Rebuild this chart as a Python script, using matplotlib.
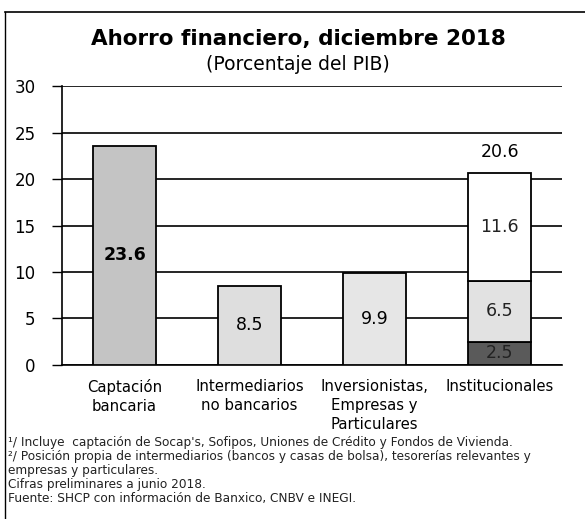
import matplotlib.pyplot as plt
from matplotlib.lines import Line2D

# =========================
# DATA
# =========================
categories = ["Captación\nbancaria", "Intermediarios\nno bancarios",
              "Inversionistas,\nEmpresas y\nParticulares", "Institucionales"]
single_values = [23.6, 8.5, 9.9]
single_colors = ["#c4c4c4", "#dedede", "#e6e6e6"]

inst_segments = [2.5, 6.5, 11.6]
inst_colors = ["#5a5a5a", "#e2e2e2", "#ffffff"]
inst_total = 20.6

footnotes = [
    "¹/ Incluye  captación de Socap's, Sofipos, Uniones de Crédito y Fondos de Vivienda.",
    "²/ Posición propia de intermediarios (bancos y casas de bolsa), tesorerías relevantes y",
    "empresas y particulares.",
    "Cifras preliminares a junio 2018.",
    "Fuente: SHCP con información de Banxico, CNBV e INEGI.",
]

plt.rcParams["font.family"] = ["DejaVu Sans"]

fig = plt.figure(figsize=(5.85, 5.19), dpi=100)
ax = fig.add_axes([0.106, 0.297, 0.855, 0.537])

# =========================
# BARS
# =========================
for i, (v, c) in enumerate(zip(single_values, single_colors)):
    ax.bar(i, v, width=0.5, color=c, edgecolor="black", linewidth=1.3, zorder=3)
    ax.text(i, v / 2, f"{v}", ha="center", va="center", fontsize=12.5,
            fontweight="bold" if i == 0 else "normal", zorder=4)

bottom = 0
for seg, c in zip(inst_segments, inst_colors):
    ax.bar(3, seg, bottom=bottom, width=0.5, color=c, edgecolor="black",
           linewidth=1.3, zorder=3)
    ax.text(3, bottom + seg / 2, f"{seg}", ha="center", va="center",
            fontsize=12.5, color="#222222", zorder=4)
    bottom += seg

ax.text(3, inst_total + 1.3, f"{inst_total}", ha="center", va="bottom", fontsize=12.5)

# =========================
# AXES
# =========================
ax.set_xlim(-0.5, 3.5)
ax.set_ylim(0, 30)
ax.set_yticks(range(0, 31, 5))
ax.tick_params(axis="y", labelsize=12, length=7, width=1, pad=12)
ax.set_xticks(range(len(categories)))
ax.set_xticklabels(categories, fontsize=10.7, linespacing=1.35)
ax.tick_params(axis="x", length=0, pad=10)
ax.grid(axis="y", color="black", linewidth=1.2, zorder=0)

for s in ["top", "right"]:
    ax.spines[s].set_visible(False)
ax.spines["left"].set_linewidth(1.2)
ax.spines["bottom"].set_linewidth(1.2)

# =========================
# TITLES / NOTES
# =========================
fig.text(0.51, 0.925, "Ahorro financiero, diciembre 2018", ha="center",
         va="center", fontsize=15.5, fontweight="bold")
fig.text(0.51, 0.876, "(Porcentaje del PIB)", ha="center", va="center",
         fontsize=13.5)

y = 0.148
for line in footnotes:
    fig.text(0.014, y, line, ha="left", va="center", fontsize=8.7, color="#222222")
    y -= 0.027

# frame lines
fig.add_artist(Line2D([0.009, 0.009], [0.0, 0.977], color="black", linewidth=1))
fig.add_artist(Line2D([0.009, 1.0], [0.977, 0.977], color="black", linewidth=1.2))

fig.savefig("out.png", dpi=100)
